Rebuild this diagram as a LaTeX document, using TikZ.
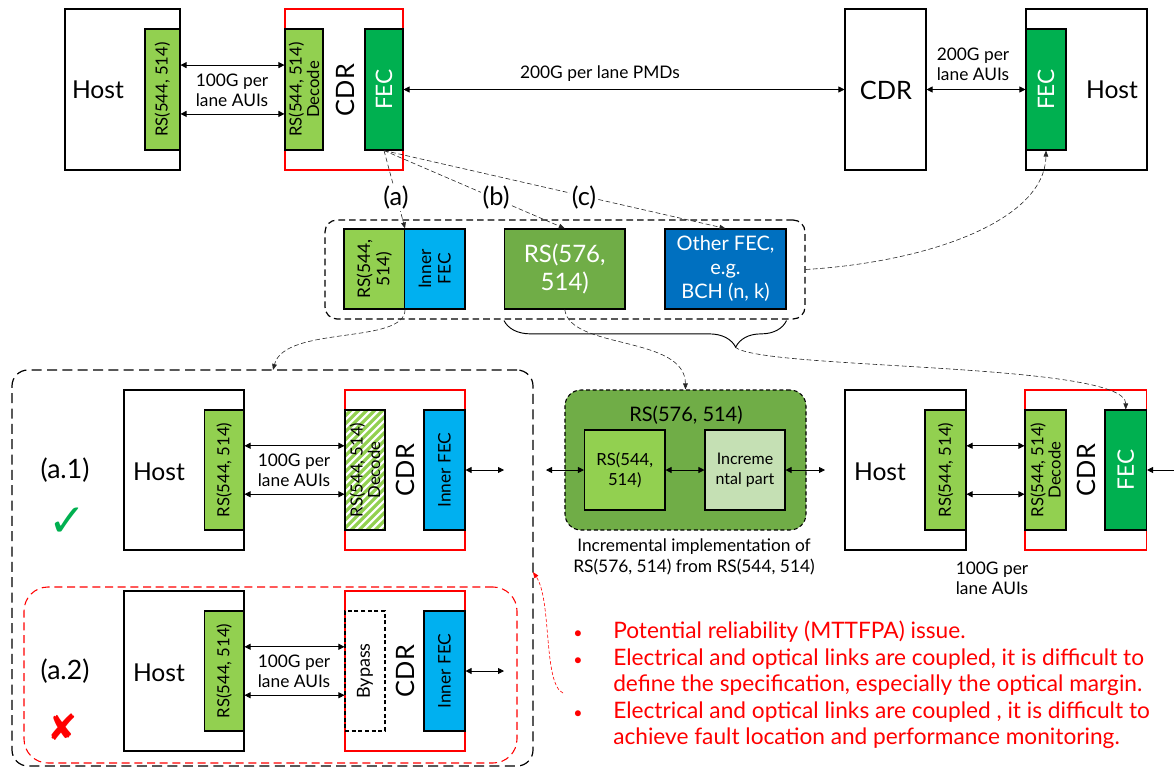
\documentclass[tikz,border=0pt]{standalone}
\usepackage{fontspec}
\setmainfont{Lato}
\newfontfamily\symfont{DejaVu Sans}
\usetikzlibrary{fit,arrows.meta,decorations.pathreplacing,calc}
\definecolor{lgreen}{HTML}{92D050}
\definecolor{dgreen}{HTML}{00B050}
\definecolor{mgreen}{HTML}{70AD47}
\definecolor{pgreen}{HTML}{C5E0B4}
\definecolor{cyanb}{HTML}{00B0F0}
\definecolor{blueb}{HTML}{0070C0}
\definecolor{redc}{HTML}{FF0000}
\newcommand\fsz[2]{\fontsize{#1}{#2}\selectfont}
\begin{document}
\begin{tikzpicture}[x=0.75pt,y=-0.75pt,
 blk/.style={draw=black, line width=0.8pt, inner sep=0pt, fit={#1}},
 redb/.style={draw=redc, line width=0.8pt, inner sep=0pt, fit={#1}},
 txt/.style={inner sep=0pt, align=center},
 rtxt/.style={inner sep=0pt, align=center, rotate=90},
 biarr/.style={{Triangle[length=4.5pt,width=4.5pt]}-{Triangle[length=4.5pt,width=4.5pt]}, line width=0.6pt},
 onearr/.style={-{Triangle[length=4.5pt,width=4.5pt]}, line width=0.6pt},
 dconn/.style={draw=black!85, dash pattern=on 3.5pt off 2pt, line width=0.45pt, -{Triangle[length=4.5pt,width=3.5pt]}},
 lbl/.style={inner sep=1pt, fill=white, font=\fsz{19}{22}},
 hosttxt/.style={txt, font=\fsz{18.5}{22}},
 cdrtxt/.style={rtxt, font=\fsz{19}{22}},
 smalltxt/.style={txt, font=\fsz{13}{15}},
]
\useasboundingbox (0,0) rectangle (1174,768);

% ---------------- top row ----------------
\node[blk={(65,9) (180,170)}] (host1) {};
\node[hosttxt] (host1t) at (98,90) {Host};
\node[redb={(285,9) (403,170)}] (cdr1) {};
\node[blk={(145,29) (180,150)}, fill=lgreen] (rs1) {};
\node[rtxt, font=\fsz{12.5}{14}] (rs1t) at (rs1.center) {RS(544, 514)};
\node[blk={(285,29) (323,150)}, fill=lgreen] (dec1) {};
\node[rtxt, font=\fsz{12.5}{13}] (dec1t) at (dec1.center) {RS(544, 514)\\Decode};
\node[cdrtxt] (cdr1t) at (345,90) {CDR};
\node[blk={(365,29) (403,150)}, fill=dgreen] (fec1) {};
\node[rtxt, text=white, font=\fsz{17}{20}] (fec1t) at (fec1.center) {FEC};
\draw[biarr] ($(rs1.north east)!0.3!(rs1.south east)$) -- ($(dec1.north west)!0.3!(dec1.south west)$);
\draw[biarr] ($(rs1.north east)!0.7!(rs1.south east)$) -- ($(dec1.north west)!0.7!(dec1.south west)$);
\node[smalltxt] (lab1) at (232,90) {100G per\\lane AUIs};

\node[blk={(845,9) (926,170)}] (cdr2) {};
\node[txt, font=\fsz{19}{22}] (cdr2t) at (886,90) {CDR};
\node[blk={(1026,9) (1147,170)}] (host2) {};
\node[blk={(1026,29) (1066,150)}, fill=dgreen] (fec2) {};
\node[rtxt, text=white, font=\fsz{17}{20}] (fec2t) at (fec2.center) {FEC};
\node[hosttxt] (host2t) at (1112,90) {Host};
\draw[biarr] (fec1.east) -- (cdr2.west);
\node[smalltxt] (lab2) at (600,74) {200G per lane PMDs};
\draw[biarr] (cdr2.east) -- (fec2.west);
\node[smalltxt] (lab3) at (973,64) {200G per\\lane AUIs};

% ---------------- middle group ----------------
\node[draw, dash pattern=on 5pt off 3pt, line width=0.9pt, rounded corners=9pt, inner sep=0pt, fit={(325,220) (805,319)}] (grp1) {};
\node[blk={(344,229) (404.5,309)}, fill=lgreen] (rs2) {};
\node[rtxt, font=\fsz{13}{14.5}] (rs2t) at (rs2.center) {RS(544,\\514)};
\node[blk={(404.5,229) (465,309)}, fill=cyanb] (if2) {};
\node[rtxt, font=\fsz{13}{14.5}] (if2t) at (if2.center) {Inner\\FEC};
\node[blk={(504.5,229) (625,309)}, fill=mgreen] (rs576) {};
\node[txt, text=white, font=\fsz{18}{21}] (rs576t) at (rs576.center) {RS(576,\\514)};
\node[blk={(665,229) (786,309)}, fill=blueb] (oth) {};
\node[txt, text=white, font=\fsz{15}{18}] (otht) at (oth.center) {Other FEC,\\e.g.\\BCH (n, k)};
\draw[decorate, decoration={brace, mirror, amplitude=20pt, aspect=0.82}, line width=0.7pt]
  ($(rs576.south west)+(0,11)$) -- ($(oth.south east)+(0,11)$);
\coordinate (brtip) at (735,347);

\draw[dconn] (fec1.south) -- (rs2.north east);
\draw[dconn] (fec1.south) -- (rs576.north);
\draw[dconn] (fec1.south) -- (oth.north);
\node[lbl] (la) at (396,198) {(a)};
\node[lbl] (lb) at (496,198) {(b)};
\node[lbl] (lc) at (584,198) {(c)};
\draw[dconn] (grp1.east) .. controls (930,262) and (1045,220) .. (fec2.south);

% ---------------- bottom left ----------------
\node[draw, dash pattern=on 7.5pt off 4pt, line width=0.9pt, rounded corners=12pt, inner sep=0pt, fit={(12,370) (533,766)}] (bigA) {};
\node[draw=redc, dash pattern=on 6pt off 3.5pt, line width=0.8pt, rounded corners=18pt, inner sep=0pt, fit={(24,587) (517,763)}] (bigB) {};
\coordinate (bigAin) at (273,370);
\draw[dconn] (rs2.south east) .. controls (405,345) and (285,325) .. (bigAin);

% (a.1)
\node[txt, font=\fsz{20}{23}] (a1l) at (65,470) {(a.1)};
\node[txt, text=dgreen, font=\symfont\fsz{34}{36}] (chk) at (67,522) {✓};
\node[blk={(124,390) (244,550)}] (hosta1) {};
\node[hosttxt] (hosta1t) at (159,472) {Host};
\node[redb={(345,390) (465,550)}] (cdra1) {};
\node[blk={(204.5,410) (244,530)}, fill=lgreen] (rsa1) {};
\node[rtxt, font=\fsz{12.5}{14}] (rsa1t) at (rsa1.center) {RS(544, 514)};
\begin{scope}
\clip (345,410) rectangle (385,530);
\foreach \i in {0,8,...,176} \draw[lgreen, line width=2.4pt] (215+\i,530) -- (345+\i,400);
\end{scope}
\node[blk={(345,410) (385,530)}] (deca1) {};
\node[rtxt, font=\fsz{12.5}{13}] (deca1t) at (deca1.center) {RS(544, 514)\\Decode};
\node[cdrtxt] (cdra1t) at (405,470) {CDR};
\node[blk={(424,410) (465,530)}, fill=cyanb] (ifa1) {};
\node[rtxt, font=\fsz{13}{15}] (ifa1t) at (ifa1.center) {Inner FEC};
\draw[biarr] ($(rsa1.north east)!0.3!(rsa1.south east)$) -- ($(deca1.north west)!0.3!(deca1.south west)$);
\draw[biarr] ($(rsa1.north east)!0.7!(rsa1.south east)$) -- ($(deca1.north west)!0.7!(deca1.south west)$);
\node[smalltxt] (laba1) at (294,470) {100G per\\lane AUIs};
\coordinate (a1out) at (504,470);
\draw[biarr] (ifa1.east) -- (a1out);

% (a.2)
\node[txt, font=\fsz{20}{23}] (a2l) at (65,671) {(a.2)};
\node[txt, text=redc, font=\symfont\fsz{27}{29}] (xm) at (63,727) {✘};
\node[blk={(124,591) (244,751)}] (hosta2) {};
\node[hosttxt] (hosta2t) at (159,673) {Host};
\node[redb={(345,591) (465,751)}] (cdra2) {};
\node[blk={(204.5,611) (244,731)}, fill=lgreen] (rsa2) {};
\node[rtxt, font=\fsz{12.5}{14}] (rsa2t) at (rsa2.center) {RS(544, 514)};
\node[draw, dash pattern=on 3pt off 2pt, line width=0.8pt, inner sep=0pt, fit={(345,611) (385,731)}] (bypa2) {};
\node[rtxt, font=\fsz{13.5}{15}] (bypa2t) at (bypa2.center) {Bypass};
\node[cdrtxt] (cdra2t) at (405,671) {CDR};
\node[blk={(424,611) (465,731)}, fill=cyanb] (ifa2) {};
\node[rtxt, font=\fsz{13}{15}] (ifa2t) at (ifa2.center) {Inner FEC};
\draw[biarr] ($(rsa2.north east)!0.3!(rsa2.south east)$) -- ($(bypa2.north west)!0.3!(bypa2.south west)$);
\draw[biarr] ($(rsa2.north east)!0.7!(rsa2.south east)$) -- ($(bypa2.north west)!0.7!(bypa2.south west)$);
\node[smalltxt] (laba2) at (294,671) {100G per\\lane AUIs};
\coordinate (a2out) at (504,671);
\draw[biarr] (ifa2.east) -- (a2out);

% ---------------- middle bottom group ----------------
\node[draw, dash pattern=on 3pt off 2pt, line width=0.8pt, fill=mgreen, rounded corners=12pt, inner sep=0pt, fit={(565,390) (806,530)}] (grp2) {};
\node[txt, font=\fsz{15}{17}] (grp2t) at (686,415) {RS(576, 514)};
\node[blk={(584.5,430) (665,510)}, fill=lgreen] (rsin) {};
\node[txt, font=\fsz{12.5}{15}] (rsint) at (rsin.center) {RS(544,\\514)};
\node[blk={(705,430) (785,510)}, fill=pgreen] (incr) {};
\node[txt, font=\fsz{12}{15}] (incrt) at (incr.center) {Increme\\ntal part};
\coordinate (g2in) at (546,470);
\coordinate (g2out) at (825,470);
\draw[biarr] (g2in) -- (rsin.west);
\draw[biarr] (rsin.east) -- (incr.west);
\draw[biarr] (incr.east) -- (g2out);
\node[txt, font=\fsz{13}{15.75}] (cap) at (694,557) {Incremental implementation of\\RS(576, 514) from RS(544, 514)};
\draw[dconn] (rs576.south) .. controls (570,350) and (685,335) .. (grp2.north);

% ---------------- bottom right ----------------
\node[blk={(845,390) (966,550)}] (host3) {};
\node[hosttxt] (host3t) at (880,472) {Host};
\node[redb={(1025,390) (1146.5,550)}] (cdr3) {};
\node[blk={(925,410) (966,530)}, fill=lgreen] (rs3) {};
\node[rtxt, font=\fsz{12.5}{14}] (rs3t) at (rs3.center) {RS(544, 514)};
\node[blk={(1025,410) (1066,530)}, fill=lgreen] (dec3) {};
\node[rtxt, font=\fsz{12.5}{13}] (dec3t) at (dec3.center) {RS(544, 514)\\Decode};
\node[cdrtxt] (cdr3t) at (1086,470) {CDR};
\node[blk={(1105,410) (1146.5,530)}, fill=dgreen] (fec3) {};
\node[rtxt, text=white, font=\fsz{17}{20}] (fec3t) at (fec3.center) {FEC};
\draw[biarr] ($(rs3.north east)!0.3!(rs3.south east)$) -- ($(dec3.north west)!0.3!(dec3.south west)$);
\draw[biarr] ($(rs3.north east)!0.7!(rs3.south east)$) -- ($(dec3.north west)!0.7!(dec3.south west)$);
\node[smalltxt] (lab4) at (992,578) {100G per\\lane AUIs};
\coordinate (rin) at (1174,470);
\draw[onearr] (rin) -- (fec3.east);
\draw[dconn] (brtip) .. controls (760,370) and (1126,362) .. (fec3.north);

% ---------------- bullets ----------------
\node[anchor=north west, inner sep=0pt, text=redc, font=\fsz{17}{19.9}] (bul) at (573,620)
{\begin{tabular}{@{}p{30pt}@{}l@{}}
{\fsz{12}{12}\textbullet} & Potential reliability (MTTFPA) issue.\\
{\fsz{12}{12}\textbullet} & Electrical and optical links are coupled, it is difficult to\\
 & define the specification, especially the optical margin.\\
{\fsz{12}{12}\textbullet} & Electrical and optical links are coupled , it is difficult to\\
 & achieve fault location and performance monitoring.
\end{tabular}};
\coordinate (rdstart) at (563,693);
\coordinate (rdend) at (533,572);
\draw[redc, dash pattern=on 2.5pt off 1.5pt, line width=0.45pt, -{Triangle[length=4.5pt,width=3.5pt]}] (rdstart) .. controls (543,684) and (552,600) .. (rdend);
\end{tikzpicture}
\end{document}
